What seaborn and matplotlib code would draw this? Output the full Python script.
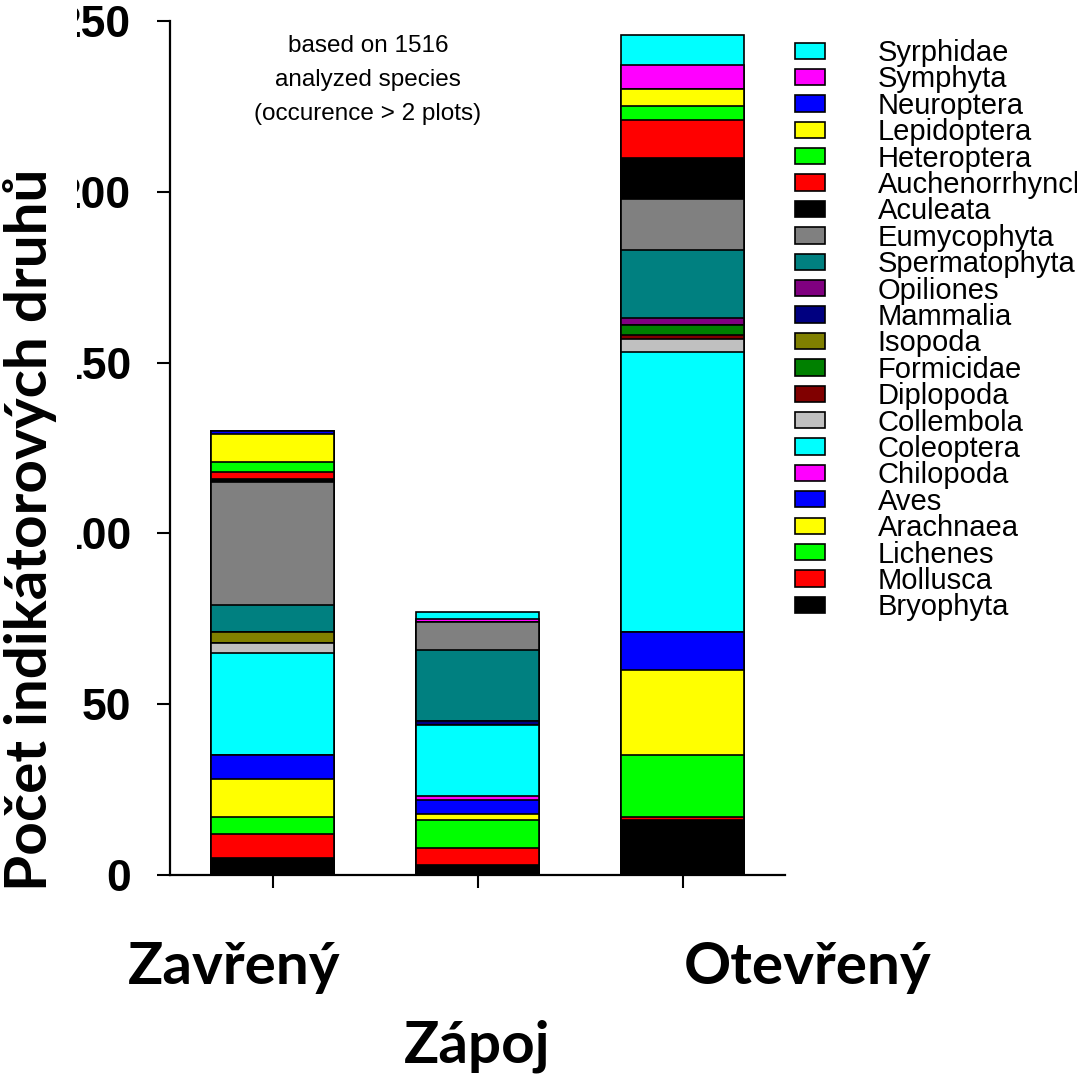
import matplotlib
matplotlib.use("Agg")
import matplotlib.pyplot as plt
import seaborn as sns
import numpy as np
from matplotlib.patches import Patch, Rectangle

# ---------------- data ----------------
taxa = ["Bryophyta", "Mollusca", "Lichenes", "Arachnaea", "Aves", "Chilopoda",
        "Coleoptera", "Collembola", "Diplopoda", "Formicidae", "Isopoda",
        "Mammalia", "Opiliones", "Spermatophyta", "Eumycophyta", "Aculeata",
        "Auchenorrhyncha", "Heteroptera", "Lepidoptera", "Neuroptera",
        "Symphyta", "Syrphidae"]
colors = ["#000000", "#FF0000", "#00FF00", "#FFFF00", "#0000FF", "#FF00FF",
          "#00FFFF", "#C0C0C0", "#800000", "#008000", "#808000",
          "#000080", "#800080", "#008080", "#808080", "#000000",
          "#FF0000", "#00FF00", "#FFFF00", "#0000FF",
          "#FF00FF", "#00FFFF"]
zavreny  = [5, 7, 5, 11, 7, 0, 30, 3, 0, 0, 3, 0, 0, 8, 36, 1, 2, 3, 8, 1, 0, 0]
stredni  = [3, 5, 8, 2, 4, 1, 21, 0, 0, 0, 0, 1, 0, 21, 8, 0, 0, 0, 0, 0, 1, 2]
otevreny = [16, 1, 18, 25, 11, 0, 82, 4, 1, 3, 0, 0, 2, 20, 15, 12, 11, 4, 5, 0, 7, 9]
positions = [0, 1, 2]
tick_labels = ["Zavřený", "", "Otevřený"]
yticks = [0, 50, 100, 150, 200, 250]
note = "based on 1516\nanalyzed species\n(occurence > 2 plots)"

# ---------------- style ----------------
sns.set_theme(style="white")
plt.rcParams["font.family"] = ["Liberation Sans", "DejaVu Sans"]
for key in ["text.color", "axes.labelcolor", "xtick.color", "ytick.color",
            "axes.edgecolor"]:
    plt.rcParams[key] = "black"
bold_family = ["Lato", "DejaVu Sans"]

W, H = 1077, 1074
fig = plt.figure(figsize=(W / 100, H / 100), dpi=100)
ax = fig.add_axes([170 / W, 1 - 875 / H, 615 / W, 854 / H])

data = np.array([zavreny, stredni, otevreny])
cum = data.cumsum(axis=1)
for i in range(len(taxa) - 1, -1, -1):
    sns.barplot(x=positions, y=cum[:, i], color=colors[i], saturation=1,
                width=0.6, edgecolor="black", linewidth=1.2, ax=ax)

ax.set_xlim(-0.5, 2.5)
ax.set_ylim(0, 250)
ax.set_yticks(yticks)
ax.set_yticklabels([str(v) for v in yticks])
ax.set_xticks(positions)
ax.set_xticklabels([""] * len(positions))
ax.set_xlabel("")
ax.set_ylabel("")
sns.despine(ax=ax)
for s in ["left", "bottom"]:
    ax.spines[s].set_linewidth(1.6)
    ax.spines[s].set_color("black")
ax.tick_params(axis="both", direction="out", length=9.5, width=1.5,
               color="black", labelcolor="black", bottom=True, left=True)
ax.tick_params(axis="y", labelsize=32, pad=18.5)
for lbl in ax.get_yticklabels():
    lbl.set_fontweight("bold")
    lbl.set_family(["Liberation Sans", "DejaVu Sans"])

# category labels (offset from ticks as in the original)
ax.text(0.104, -0.1276, tick_labels[0], transform=ax.transAxes, ha="center",
        va="baseline", fontsize=42, fontweight="bold", family=bold_family,
        color="black")
ax.text(1.036, -0.1276, tick_labels[2], transform=ax.transAxes, ha="center",
        va="baseline", fontsize=42, fontweight="bold", family=bold_family,
        color="black")
ax.text(0.499, -0.220, "Zápoj", transform=ax.transAxes, ha="center",
        va="baseline", fontsize=42, fontweight="bold", family=bold_family,
        color="black")

ax.text(0.322, 0.984, note, transform=ax.transAxes, ha="center", va="top",
        fontsize=17.5, linespacing=1.72, color="black")

# white band at the left edge (clips the tick labels as in the original)
fig.add_artist(Rectangle((0, 0), 77 / W, 1, transform=fig.transFigure,
                         facecolor="white", edgecolor="none", zorder=2))
fig.text(57 / W, 1 - 530 / H, "Počet indikátorových druhů", rotation=90,
         ha="right", va="center", fontsize=42, fontweight="bold",
         family=bold_family, zorder=3, color="black")

handles = [Patch(facecolor=c, edgecolor="black", linewidth=1.2, label=t)
           for t, c in zip(taxa[::-1], colors[::-1])]
fig.legend(handles=handles, loc="upper left",
           bbox_to_anchor=(795 / W, 1 - 39 / H), frameon=False,
           prop={"family": "Liberation Sans", "size": 21},
           labelspacing=-0.055, handlelength=1.03, handleheight=0.48,
           handletextpad=1.8, borderpad=0, borderaxespad=0,
           labelcolor="black")

fig.savefig("out.png", dpi=100)
